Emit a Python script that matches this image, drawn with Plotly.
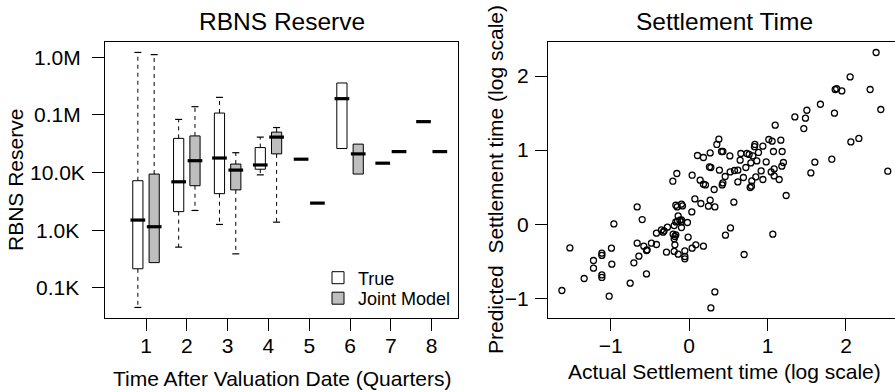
import math
import plotly.graph_objects as go

W, H = 895, 392

# ---------------- data: left panel (RBNS reserve boxplots) ----------------
quarters = [1, 2, 3, 4, 5, 6, 7, 8]
tick_vals_reserve = [1e2, 1e3, 1e4, 1e5, 1e6]
tick_text_reserve = ["0.1K", "1.0K", "10.0K", "0.1M", "1.0M"]

true_low = [46, 510, 1260, 9100, 17000, 26000, 14500, 76000]
true_q1 = [215, 2100, 4300, 11400, 17000, 26000, 14500, 76000]
true_med = [1500, 6900, 17800, 13500, 17000, 190000, 14500, 76000]
true_q3 = [7200, 39000, 107000, 27000, 17000, 355000, 14500, 76000]
true_high = [1.2e6, 83000, 200000, 41000, 17000, 355000, 14500, 76000]

joint_low = [275, 2200, 390, 1380, 2950, 9400, 23000, 23000]
joint_q1 = [275, 5900, 5000, 21000, 2950, 9400, 23000, 23000]
joint_med = [1150, 16000, 11000, 41000, 2950, 21000, 23000, 23000]
joint_q3 = [9400, 43000, 14000, 50000, 2950, 31000, 23000, 23000]
joint_high = [1.1e6, 138000, 22000, 60000, 2950, 31000, 23000, 23000]

# ---------------- data: right panel (settlement time scatter) -------------
actual_log = [
    2.384, 2.053, 1.862, 1.881, 1.947, 2.308, 1.674, 1.501, 2.444, 1.853,
    1.348, 1.483, 1.462, 2.062, 2.164, 1.603, 1.819, 1.552, 2.533, 1.097,
    0.379, 0.353, 0.838, 0.833, 1.016, 1.058, 1.169, 0.940, 0.106, 0.182,
    0.268, 0.412, 0.430, 0.519, 0.659, 0.736, 0.765, 0.812, 0.884, 1.075,
    1.186, 0.650, 0.787, 0.863, 0.982, 1.202, 1.182, 0.259, 0.277, 0.386,
    0.523, 0.578, 0.621, 0.723, 0.918, 1.046, 1.084, 0.038, 0.140, 0.182,
    0.208, 0.430, 0.421, 0.459, 0.621, 0.692, 0.799, 0.850, 0.940, 1.084,
    1.148, 0.319, 0.778, 0.794, 1.237, 0.073, 0.149, 0.268, 0.246, 0.328,
    0.570, 0.034, -0.157, -0.208, -0.663, -0.170, -0.153, -0.098, -0.085, -0.599,
    -0.960, -0.140, -0.119, -0.170, -0.098, -0.022, -1.521, -1.113, -1.113, -0.991,
    -1.220, -1.220, -0.986, -1.339, -1.113, -1.113, -1.623, -1.020, -0.752, -0.544,
    -0.705, -0.641, -0.663, -0.578, -0.544, -0.536, -0.481, -0.417, -0.417, -0.353,
    -0.332, -0.319, -0.277, -0.191, -0.149, -0.098, -0.098, -0.204, -0.182, -0.191,
    -0.170, -0.182, -0.013, -0.289, -0.191, -0.140, -0.055, -0.055, -0.055, 0.038,
    0.085, 0.182, 0.463, 0.527, 1.067, 0.701, 0.328, 0.277,
]
predicted_log = [
    2.317, 1.988, 1.818, 1.829, 1.799, 1.818, 1.619, 1.538, 1.548, 1.498,
    1.448, 1.431, 1.291, 1.111, 1.157, 0.837, 0.877, 0.692, 0.715, 1.336,
    1.147, 1.076, 1.076, 1.046, 1.143, 1.120, 1.134, 1.053, 0.927, 0.900,
    0.962, 0.981, 0.981, 0.922, 0.954, 0.954, 0.941, 0.922, 0.968, 0.981,
    0.981, 0.864, 0.827, 0.854, 0.841, 0.833, 0.783, 0.773, 0.765, 0.729,
    0.706, 0.725, 0.729, 0.765, 0.719, 0.706, 0.746, 0.661, 0.594, 0.540,
    0.530, 0.557, 0.530, 0.644, 0.571, 0.630, 0.584, 0.638, 0.603, 0.652,
    0.603, 0.468, 0.495, 0.513, 0.387, 0.341, 0.279, 0.324, 0.243, 0.233,
    0.297, 0.166, 0.684, 0.580, 0.233, 0.256, 0.233, 0.270, 0.247, 0.063,
    0.004, 0.112, 0.054, 0.031, 0.031, 0.023, -0.320, -0.391, -0.422, -0.324,
    -0.490, -0.594, -0.540, -0.733, -0.684, -0.719, -0.895, -0.972, -0.796, -0.671,
    -0.522, -0.432, -0.256, -0.297, -0.355, -0.347, -0.256, -0.274, -0.121, -0.077,
    -0.108, -0.090, -0.040, -0.018, 0.036, -0.045, 0.058, -0.135, -0.166, -0.198,
    -0.144, -0.279, -0.175, -0.378, -0.368, -0.405, -0.360, -0.436, -0.468, -0.324,
    -0.279, -0.297, -0.148, -0.050, -0.135, -0.409, -0.914, -1.130,
]

# ---------------- styling ----------------
FONT = "Liberation Sans, Arial, Helvetica, sans-serif"
GRAY = "#bebebe"
OFFSET = 0.2
BOXW = 0.25

fig = go.Figure()


def add_group(offset, low, q1, med, q3, high, fill):
    xs = [q + offset for q in quarters]
    fig.add_trace(go.Box(
        x=xs, q1=q1, median=med, q3=q3, lowerfence=q1, upperfence=q3,
        width=BOXW, fillcolor=fill, line=dict(color="black", width=1),
        boxpoints=False, whiskerwidth=0, showlegend=False,
        hoverinfo="skip", xaxis="x", yaxis="y"))
    # dashed whiskers
    wx, wy, cx, cy = [], [], [], []
    for x, lo, a, b, hi in zip(xs, low, q1, q3, high):
        if hi > b:
            wx += [x, x, None]
            wy += [b, hi, None]
            cx.append(x); cy.append(hi)
        if lo < a:
            wx += [x, x, None]
            wy += [a, lo, None]
            cx.append(x); cy.append(lo)
    fig.add_trace(go.Scatter(
        x=wx, y=wy, mode="lines", line=dict(color="black", width=1, dash="4px,4px"),
        showlegend=False, hoverinfo="skip", xaxis="x", yaxis="y"))
    fig.add_trace(go.Scatter(
        x=cx, y=cy, mode="markers",
        marker=dict(symbol="line-ew", size=5, line=dict(color="black", width=1.2)),
        showlegend=False, hoverinfo="skip", xaxis="x", yaxis="y"))
    # thick medians
    fig.add_trace(go.Scatter(
        x=xs, y=med, mode="markers",
        marker=dict(symbol="line-ew", size=10.5, line=dict(color="black", width=3.2)),
        showlegend=False, hoverinfo="skip", xaxis="x", yaxis="y"))


add_group(-OFFSET, true_low, true_q1, true_med, true_q3, true_high, "white")
add_group(OFFSET, joint_low, joint_q1, joint_med, joint_q3, joint_high, GRAY)

# legend entries (one legend per row to match the tight row spacing)
for name, fill, lg in [("True", "white", "legend"), ("Joint Model", GRAY, "legend2")]:
    fig.add_trace(go.Scatter(
        x=[None], y=[None], mode="markers", name=name, legend=lg,
        marker=dict(symbol="square", size=12, color=fill, line=dict(color="black", width=1)),
        xaxis="x", yaxis="y"))

# scatter
fig.add_trace(go.Scatter(
    x=actual_log, y=predicted_log, mode="markers",
    marker=dict(symbol="circle-open", size=6, color="black", line=dict(width=1.3)),
    showlegend=False, hoverinfo="skip", xaxis="x2", yaxis="y2"))


def px(x):
    return x / W


def py(y):
    return 1 - y / H


ydom = [py(318), py(42)]
axis_common = dict(
    showgrid=False, zeroline=False, showline=True, linecolor="black", linewidth=1,
    ticks="outside", ticklen=12, tickwidth=1, tickcolor="black",
    tickfont=dict(family=FONT, size=21, color="black"),
)
legend_common = dict(xanchor="left", yanchor="middle", bgcolor="rgba(0,0,0,0)",
                     font=dict(family=FONT, size=18, color="black"), itemwidth=30)

fig.update_layout(
    width=W, height=H, margin=dict(l=0, r=0, t=0, b=0),
    paper_bgcolor="white", plot_bgcolor="white",
    boxmode="overlay",
    font=dict(family=FONT, color="black"),
    xaxis=dict(domain=[px(105), px(458)], range=[-0.005, 8.645], tickvals=quarters,
               mirror=True, anchor="y", ticklabelstandoff=-3, **axis_common),
    yaxis=dict(domain=ydom, type="log", range=[1.48, 6.26], tickvals=tick_vals_reserve,
               showticklabels=False, mirror=True, anchor="x", **axis_common),
    xaxis2=dict(domain=[px(548), 1.0], range=[-1.80, 2.625], tickvals=[-1, 0, 1, 2],
                mirror=True, anchor="y2", ticklabelstandoff=-3, **axis_common),
    yaxis2=dict(domain=ydom, range=[-1.266, 2.459], tickvals=[-1, 0, 1, 2],
                mirror=False, anchor="x2", ticklabelstandoff=2, **axis_common),
    legend=dict(x=px(318), y=py(278), **legend_common),
    legend2=dict(x=px(318), y=py(298.5), **legend_common),
    showlegend=True,
)

# y tick labels of the left panel are centred (as in the original R figure)
for v, t in zip(tick_vals_reserve, tick_text_reserve):
    fig.add_annotation(text=t, x=px(57), y=math.log10(v), xref="paper", yref="y",
                       xanchor="center", yanchor="middle", showarrow=False,
                       font=dict(family=FONT, size=21, color="black"))

ann = [
    dict(text="RBNS Reserve", x=px(281.5), y=py(21), size=24.5, angle=0),
    dict(text="Settlement Time", x=px(724.7), y=py(21), size=24.5, angle=0),
    dict(text="Time After Valuation Date (Quarters)", x=px(281.5), y=py(378), size=21, angle=0),
    dict(text="Actual Settlement time (log scale)", x=px(724.7), y=py(371), size=21, angle=0),
    dict(text="RBNS Reserve", x=px(16), y=py(180), size=21, angle=-90),
    dict(text="Predicted  Settlement time (log scale)", x=px(496), y=py(180), size=21, angle=-90),
]
for a in ann:
    fig.add_annotation(text=a["text"].replace("  ", "&nbsp; "), x=a["x"], y=a["y"], xref="paper", yref="paper",
                       xanchor="center", yanchor="middle", showarrow=False, textangle=a["angle"],
                       font=dict(family=FONT, size=a["size"], color="black"))

fig.write_html("out.html")
